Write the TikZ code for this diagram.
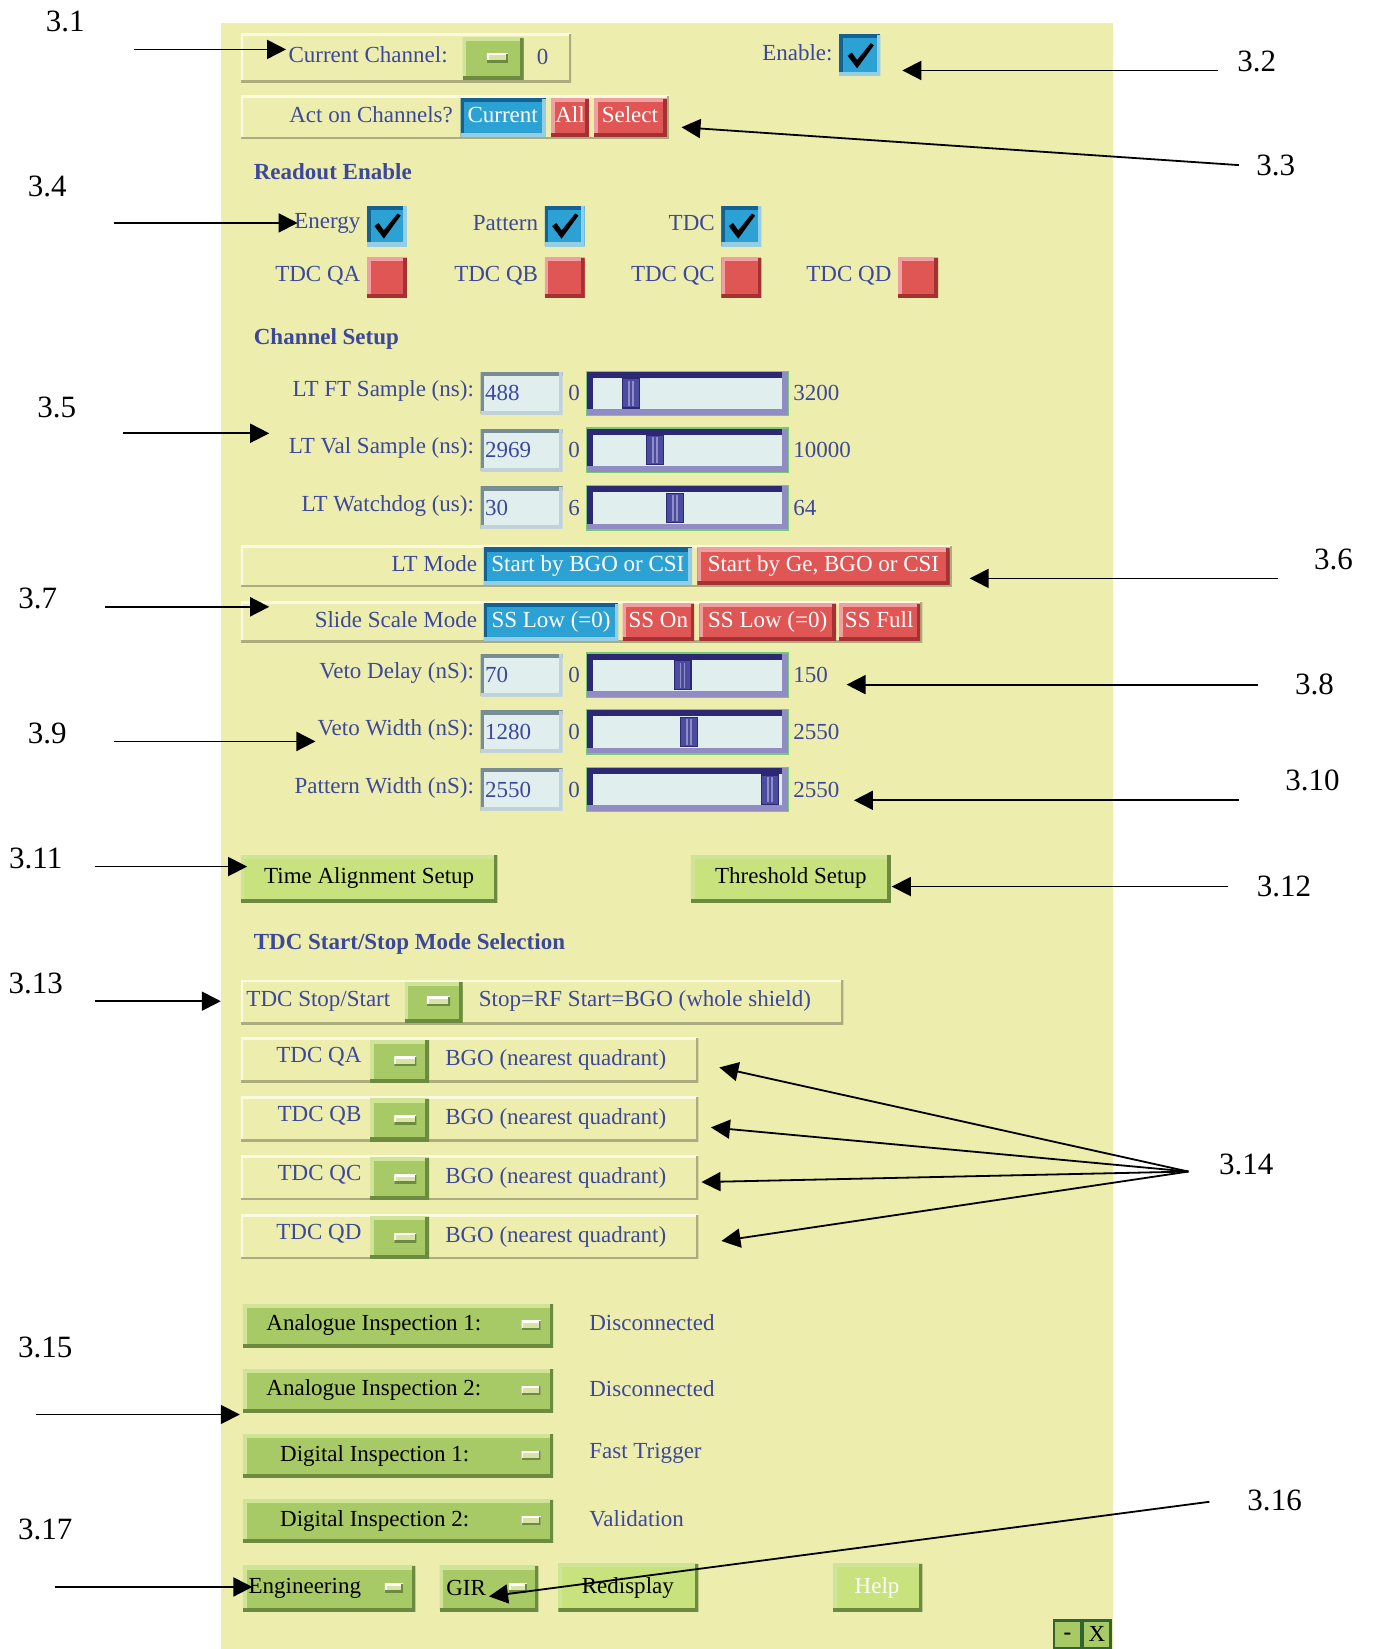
\documentclass[tikz,border=0pt]{standalone}
\usepackage{fontspec}
\setmainfont{Liberation Serif}
\usetikzlibrary{arrows.meta}

\definecolor{panel}{RGB}{237,237,173}
\definecolor{guitext}{RGB}{60,72,155}
\definecolor{framelt}{RGB}{250,250,226}
\definecolor{framedk}{RGB}{172,172,128}
\definecolor{btngreen}{RGB}{168,202,102}
\definecolor{btnlite}{RGB}{200,226,126}
\definecolor{greenlt}{RGB}{208,228,152}
\definecolor{greendk}{RGB}{108,138,64}
\definecolor{togblue}{RGB}{44,162,212}
\definecolor{bluedk}{RGB}{20,98,148}
\definecolor{bluelt}{RGB}{150,205,226}
\definecolor{togred}{RGB}{224,86,84}
\definecolor{redlt}{RGB}{240,160,160}
\definecolor{reddk}{RGB}{165,50,50}
\definecolor{entryfill}{RGB}{224,238,238}
\definecolor{entrydk}{RGB}{120,140,150}
\definecolor{entrylt}{RGB}{192,210,215}
\definecolor{navy}{RGB}{45,40,115}
\definecolor{lilac}{RGB}{145,140,195}
\definecolor{slideline}{RGB}{120,200,120}
\definecolor{thumbfill}{RGB}{75,75,160}
\definecolor{indfill}{RGB}{216,228,166}
\definecolor{winline}{RGB}{50,100,50}

\newcommand{\guifont}{\fontsize{11.5}{13}\selectfont}
\newcommand{\callfont}{\fontsize{15.5}{18}\selectfont}

\tikzset{
  bevel/.style n args={3}{path picture={
    \draw[#1,line width=#3] (path picture bounding box.south west) -- (path picture bounding box.north west) -- (path picture bounding box.north east);
    \draw[#2,line width=#3] (path picture bounding box.south west) -- (path picture bounding box.south east) -- (path picture bounding box.north east);}},
  frame/.style={fill=panel, bevel={framelt}{framedk}{2.2pt}},
  greenbtn/.style={fill=btngreen, bevel={greenlt}{greendk}{3.6pt}},
  litebtn/.style={fill=btnlite, bevel={greenlt}{greendk}{3.6pt}},
  bluebtn/.style={fill=togblue, bevel={bluedk}{bluelt}{3.6pt}},
  redbtn/.style={fill=togred, bevel={redlt}{reddk}{3.6pt}},
  entry/.style={fill=entryfill, bevel={entrydk}{entrylt}{3.6pt}},
  trough/.style={fill=entryfill, bevel={navy}{lilac}{6.5pt}, draw=slideline, line width=0.6pt},
  thumb/.style={fill=thumbfill, draw=navy, line width=0.6pt},
  ind/.style={fill=indfill, bevel={white}{greendk}{1.8pt}},
  winbtn/.style={fill=btngreen, draw=winline, line width=1.2pt},
  btntext/.style={text height=8pt, text depth=2.5pt},
  head/.style={font=\guifont\bfseries},
  callout/.style={font=\callfont, text=black},
  pointer/.style={-{Triangle[length=9.5pt,width=9.5pt]}, line width=0.9pt},
  chk/.pic={\fill[black] (-12,0) -- (-8,-3) -- (-3,4) -- (10,-12) -- (13,-10) -- (-3,12) -- cycle;}
}

\begin{document}
\begin{tikzpicture}[x=0.5257pt,y=-0.5257pt,
    every node/.style={inner sep=0pt, font=\guifont, text=guitext}]
  \useasboundingbox (0,0) rectangle (1305,1568);
  \fill[panel] (210,22) rectangle (1058,1568);

  % Current channel and enable
  \path[frame] (229,32) rectangle (543,78);
  \node[anchor=west] (curch) at (274,52) {Current Channel:};
  \path[greenbtn] (440,36) rectangle (498,76);
  \path[ind] (463,51) rectangle (483,59);
  \node (chval) at (516,54) {0};
  \node[anchor=east] (enable) at (792,50) {Enable:};
  \path[bluebtn] (798,33) rectangle (837,72);
  \pic at (818,53) {chk};

  % Act on channels
  \path[frame] (229,91) rectangle (636,132);
  \node[anchor=east] (acton) at (431,109) {Act on Channels?};
  \path[bluebtn] (438,94) rectangle (519,130);
  \node[btntext, text=white] (actcur) at (478,111) {Current};
  \path[redbtn] (524,94) rectangle (560,130);
  \node[btntext, text=white] (actall) at (542,111) {All};
  \path[redbtn] (565,94) rectangle (634,130);
  \node[btntext, text=white] (actsel) at (599,111) {Select};

  % Readout enable
  \node[head, anchor=west] (readout) at (241,163) {Readout Enable};
  \foreach \x/\lbl in {349/Energy, 518/Pattern, 686/TDC} {
    \node[anchor=east] (ro\x) at ({\x-6},212) {\lbl};
    \path[bluebtn] (\x,196) rectangle ({\x+38},234);
    \pic at ({\x+19},215) {chk};
  }
  \foreach \x/\q in {349/A, 518/B, 686/C, 854/D} {
    \node[anchor=east] (tq\q) at ({\x-6},262) {TDC Q\q};
    \path[redbtn] (\x,245) rectangle ({\x+38},283);
  }

  % Channel setup sliders
  \node[head, anchor=west] (chsetup) at (241,322) {Channel Setup};
  \foreach \y/\lbl/\val/\lo/\hi/\th in {374/LT FT Sample (ns):/488/0/3200/592,
      428/LT Val Sample (ns):/2969/0/10000/615, 483/LT Watchdog (us):/30/6/64/634,
      642/Veto Delay (nS):/70/0/150/641, 696/Veto Width (nS):/1280/0/2550/647,
      751/Pattern Width (nS):/2550/0/2550/724} {
    \node[anchor=east] (lbl\y) at (451,{\y-2}) {\lbl};
    \path[entry] (457,{\y-20}) rectangle (535,{\y+20});
    \node[anchor=west] (val\y) at (461,\y) {\val};
    \node (lo\y) at (546,\y) {\lo};
    \path[trough] (558,{\y-21}) rectangle (750,{\y+21});
    \path[thumb] (\th,{\y-14}) rectangle ({\th+16},{\y+14});
    \draw[lilac, line width=0.8pt] ({\th+6},{\y-12}) -- ({\th+6},{\y+12});
    \draw[lilac, line width=0.8pt] ({\th+10},{\y-12}) -- ({\th+10},{\y+12});
    \node[anchor=west] (hi\y) at (754,\y) {\hi};
  }

  % LT mode
  \path[frame] (229,519) rectangle (905,558);
  \node[anchor=east] (ltmode) at (454,536) {LT Mode};
  \path[bluebtn] (460,521) rectangle (658,556);
  \node[btntext, text=white] (ltbgo) at (559,538) {Start by BGO or CSI};
  \path[redbtn] (663,521) rectangle (903,556);
  \node[btntext, text=white] (ltge) at (783,538) {Start by Ge, BGO or CSI};

  % Slide scale mode
  \path[frame] (229,572) rectangle (877,611);
  \node[anchor=east] (ssmode) at (454,589) {Slide Scale Mode};
  \path[bluebtn] (460,574) rectangle (588,609);
  \node[btntext, text=white] (sslow) at (524,591) {SS Low (=0)};
  \path[redbtn] (592,574) rectangle (660,609);
  \node[btntext, text=white] (sson) at (626,591) {SS On};
  \path[redbtn] (665,574) rectangle (795,609);
  \node[btntext, text=white] (sslowb) at (730,591) {SS Low (=0)};
  \path[redbtn] (798,574) rectangle (875,609);
  \node[btntext, text=white] (ssfull) at (836,591) {SS Full};

  % Setup buttons
  \path[litebtn] (229,813) rectangle (473,858);
  \node[btntext, text=black] (timeal) at (351,835) {Time Alignment Setup};
  \path[litebtn] (657,813) rectangle (847,858);
  \node[btntext, text=black] (thresh) at (752,835) {Threshold Setup};

  % TDC start/stop
  \node[head, anchor=west] (tdcsel) at (241,898) {TDC Start/Stop Mode Selection};
  \path[frame] (229,932) rectangle (802,974);
  \node[anchor=west] (tdcss) at (234,952) {TDC Stop/Start};
  \path[greenbtn] (385,934) rectangle (440,972);
  \path[ind] (406,948) rectangle (428,956);
  \node[anchor=west] (tdcssval) at (455,952) {Stop=RF Start=BGO (whole shield)};
  \foreach \y/\q in {1008/A, 1064/B, 1120/C, 1176/D} {
    \path[frame] (229,{\y-21}) rectangle (664,{\y+21});
    \node[anchor=east] (qlbl\q) at (344,{\y-3}) {TDC Q\q};
    \path[greenbtn] (352,{\y-19}) rectangle (408,{\y+21});
    \path[ind] (375,{\y-3}) rectangle (396,{\y+5});
    \node[anchor=west] (qval\q) at (423,\y) {BGO (nearest quadrant)};
  }

  % Inspection lines
  \foreach \y/\lbl/\val/\lx in {1260/Analogue Inspection 1:/Disconnected/253,
      1322/Analogue Inspection 2:/Disconnected/253, 1384/Digital Inspection 1:/Fast Trigger/266,
      1446/Digital Inspection 2:/Validation/266} {
    \path[greenbtn] (231,{\y-20}) rectangle (526,{\y+21});
    \node[anchor=west, text=black] (ins\y) at (\lx,\y) {\lbl};
    \path[ind] (496,{\y-4}) rectangle (514,{\y+4});
    \node[anchor=west] (insv\y) at (560,{\y-2}) {\val};
  }

  % Bottom buttons
  \path[greenbtn] (231,1489) rectangle (395,1532);
  \node[anchor=west, text=black] (eng) at (236,1510) {Engineering};
  \path[ind] (366,1506) rectangle (383,1514);
  \path[greenbtn] (418,1489) rectangle (512,1532);
  \node[anchor=west, text=black] (gir) at (424,1510) {GIR};
  \path[ind] (484,1506) rectangle (501,1514);
  \path[litebtn] (531,1487) rectangle (664,1532);
  \node[btntext, text=black] (redisp) at (597,1510) {Redisplay};
  \path[litebtn] (792,1487) rectangle (877,1532);
  \node[btntext, text=white] (help) at (834,1510) {Help};
  \path[winbtn] (1002,1541) rectangle (1028,1567);
  \node[text=black, font=\guifont\bfseries] (wmin) at (1015,1556) {-};
  \path[winbtn] (1030,1541) rectangle (1056,1567);
  \node[text=black] (wclose) at (1043,1554) {X};

  % Callout labels
  \foreach \n/\x/\y in {1/62/20, 2/1195/58, 3/1213/157, 4/45/177, 5/54/387, 6/1268/532,
      7/36/569, 8/1250/651, 9/45/697, 10/1248/742, 11/34/816, 12/1221/843, 13/34/935,
      14/1185/1107, 15/43/1281, 16/1212/1427, 17/43/1454} {
    \node[callout] (c\n) at (\x,\y) {3.\n};
  }

  % Callout arrows
  \foreach \n/\xa/\xb/\y in {1/127/272/47, 2/1158/858/67, 4/108/283/212, 5/117/256/412,
      6/1215/922/550, 7/100/256/577, 8/1196/805/651, 9/108/300/705, 10/1178/812/761,
      11/90/235/824, 12/1168/848/843, 13/90/210/952, 15/34/228/1345, 17/52/240/1509} {
    \coordinate (t\n) at (\xa,\y);
    \coordinate (h\n) at (\xb,\y);
    \draw[pointer] (t\n) -- (h\n);
  }
  \coordinate (t3) at (1178,157);
  \coordinate (h3) at (648,121);
  \draw[pointer] (t3) -- (h3);
  \coordinate (t16) at (1150,1428);
  \coordinate (h16) at (465,1518);
  \draw[pointer] (t16) -- (h16);
  \coordinate (t14) at (1130,1114);
  \foreach \q/\x/\y in {A/684/1015, B/676/1072, C/667/1124, D/686/1180} {
    \coordinate (h14\q) at (\x,\y);
    \draw[pointer] (t14) -- (h14\q);
  }
\end{tikzpicture}
\end{document}
